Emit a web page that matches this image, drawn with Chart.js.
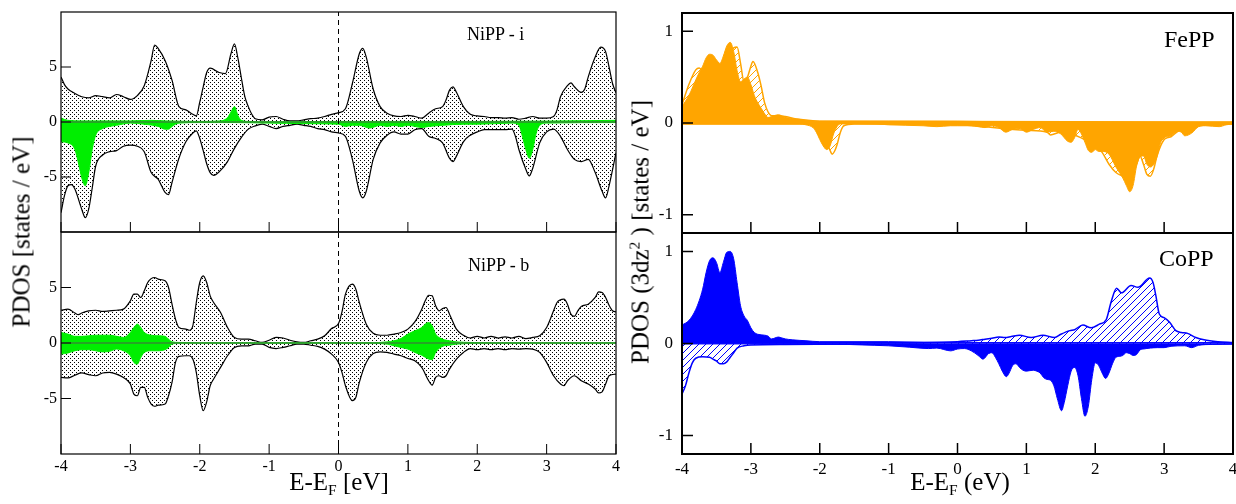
<!DOCTYPE html>
<html>
<head>
<meta charset="utf-8">
<script src="https://cdn.jsdelivr.net/npm/chart.js@4.4.1/dist/chart.umd.min.js"></script>
<style>
body{margin:0;background:#fff;width:1236px;height:504px;overflow:hidden;position:relative;font-family:"Liberation Serif",serif;}
canvas{position:absolute;left:0;top:0;}
.t{position:absolute;white-space:nowrap;color:#000;line-height:1;}
.sub{font-size:0.62em;position:relative;top:0.35em;}
.sup{font-size:0.62em;position:relative;top:-0.55em;}
</style>
</head>
<body>
<canvas id="tl" width="1236" height="504"></canvas>
<canvas id="bl" width="1236" height="504"></canvas>
<canvas id="tr" width="1236" height="504"></canvas>
<canvas id="br" width="1236" height="504"></canvas>

<div class="t" style="left:467px;top:25px;font-size:18px">NiPP - i</div>
<div class="t" style="left:468px;top:256px;font-size:18px">NiPP - b</div>
<div class="t" style="left:1164px;top:27px;font-size:24px">FePP</div>
<div class="t" style="left:1159px;top:246px;font-size:24px">CoPP</div>

<div class="t" style="left:339px;top:469px;font-size:25px;transform:translateX(-50%)">E-E<span class="sub">F</span> [eV]</div>
<div class="t" style="left:960px;top:469px;font-size:25px;transform:translateX(-50%)">E-E<span class="sub">F</span> (eV)</div>
<div class="t" style="left:21px;top:232px;font-size:25px;transform:translate(-50%,-50%) rotate(-90deg)">PDOS [states / eV]</div>
<div class="t" style="left:640px;top:232px;font-size:25px;transform:translate(-50%,-50%) rotate(-90deg)">PDOS (3dz<span class="sup">2</span> ) [states / eV]</div>

<script>
// energy axis ticks (eV) and y ticks
const E_TICKS = [-4, -3, -2, -1, 0, 1, 2, 3, 4];
const NI_YTICKS = [-5, 0, 5];
const PP_YTICKS = [-1, 0, 1];

// NiPP - i : total DOS (spin up / down) and Ni component (green)
const niI_up = [[-4,4.1],[-3.95,3.4],[-3.9,3.0],[-3.8,2.6],[-3.7,2.3],[-3.6,2.2],[-3.5,2.4],[-3.4,2.3],[-3.3,2.2],[-3.2,2.5],[-3.1,2.3],[-3.0,2.05],[-2.9,2.4],[-2.8,3.3],[-2.7,5.6],[-2.65,7.0],[-2.6,6.7],[-2.5,5.6],[-2.4,3.8],[-2.3,1.4],[-2.2,1.1],[-2.1,0.7],[-2.05,0.55],[-2.0,1.8],[-1.95,3.2],[-1.9,4.5],[-1.85,4.9],[-1.72,4.5],[-1.63,4.4],[-1.55,6.2],[-1.5,7.1],[-1.45,5.8],[-1.4,4.0],[-1.35,2.3],[-1.3,1.4],[-1.25,0.7],[-1.2,0.3],[-1.1,0.2],[-1.0,0.45],[-0.9,0.5],[-0.8,0.25],[-0.7,0.1],[-0.6,0.1],[-0.5,0.2],[-0.4,0.3],[-0.3,0.35],[-0.2,0.5],[-0.1,0.7],[0,0.85],[0.1,1.2],[0.2,3.5],[0.3,6.2],[0.35,6.7],[0.4,5.9],[0.5,3.0],[0.6,1.4],[0.7,0.8],[0.8,0.55],[0.9,0.5],[1.0,0.6],[1.1,0.5],[1.2,0.35],[1.3,0.8],[1.4,1.2],[1.5,1.4],[1.55,2.0],[1.6,2.9],[1.65,3.2],[1.7,2.7],[1.8,1.4],[1.9,0.7],[2.0,0.55],[2.1,0.5],[2.2,0.4],[2.3,0.4],[2.4,0.35],[2.5,0.4],[2.6,0.25],[2.7,0.35],[2.8,0.5],[2.9,0.35],[3.0,0.35],[3.1,0.5],[3.15,1.1],[3.2,2.3],[3.3,3.3],[3.35,3.55],[3.4,3.2],[3.5,2.7],[3.55,3.0],[3.6,4.1],[3.7,5.9],[3.78,6.8],[3.85,6.4],[3.9,5.0],[3.95,3.5],[4.0,2.65]];
const niI_dn = [[-4,-8.25],[-3.95,-6.7],[-3.9,-5.8],[-3.85,-5.7],[-3.8,-6.1],[-3.7,-7.95],[-3.65,-8.7],[-3.6,-7.9],[-3.55,-6.0],[-3.5,-4.0],[-3.4,-3.0],[-3.3,-2.7],[-3.2,-2.6],[-3.1,-2.2],[-3.0,-2.1],[-2.9,-2.2],[-2.8,-2.7],[-2.7,-4.6],[-2.6,-5.2],[-2.55,-5.8],[-2.5,-6.4],[-2.45,-6.6],[-2.4,-5.5],[-2.3,-3.3],[-2.2,-1.8],[-2.1,-1.0],[-2.05,-0.8],[-2.0,-1.5],[-1.95,-2.6],[-1.9,-3.8],[-1.85,-4.6],[-1.8,-4.85],[-1.7,-4.4],[-1.6,-3.6],[-1.5,-2.4],[-1.4,-1.4],[-1.3,-0.65],[-1.2,-0.35],[-1.1,-0.2],[-1.0,-0.4],[-0.9,-0.6],[-0.8,-0.4],[-0.7,-0.3],[-0.6,-0.2],[-0.5,-0.3],[-0.4,-0.4],[-0.3,-0.6],[-0.2,-0.7],[-0.1,-0.9],[0,-1.0],[0.1,-1.3],[0.2,-3.4],[0.3,-6.3],[0.35,-6.9],[0.4,-6.3],[0.5,-3.4],[0.6,-1.9],[0.7,-1.2],[0.8,-0.9],[0.9,-1.1],[1.0,-1.1],[1.1,-0.7],[1.2,-0.6],[1.3,-1.3],[1.4,-1.5],[1.5,-1.9],[1.6,-3.3],[1.65,-3.6],[1.7,-3.1],[1.8,-1.8],[1.9,-1.2],[2.0,-0.9],[2.1,-0.7],[2.2,-0.7],[2.3,-0.7],[2.4,-0.7],[2.5,-0.65],[2.55,-1.3],[2.6,-2.5],[2.7,-4.3],[2.75,-4.9],[2.8,-4.2],[2.9,-1.9],[3.0,-0.9],[3.1,-0.65],[3.2,-1.3],[3.3,-2.5],[3.4,-3.4],[3.5,-3.6],[3.6,-3.4],[3.7,-4.6],[3.8,-6.3],[3.85,-6.9],[3.9,-5.8],[4.0,-2.8]];
const niI_gUp = [[-4,0.35],[-3.9,0.15],[-3.7,0.1],[-3.0,0.1],[-2.7,0.15],[-2.5,0.1],[-2.0,0.05],[-1.7,0.1],[-1.6,0.4],[-1.55,0.9],[-1.5,1.4],[-1.45,0.6],[-1.4,0.15],[-1.3,0.05],[-1.0,0.03],[0,0.05],[1,0.05],[2,0.05],[3,0.08],[4,0.15]];
const niI_gDn = [[-4,-1.8],[-3.9,-1.9],[-3.8,-2.5],[-3.75,-3.7],[-3.7,-5.1],[-3.65,-5.8],[-3.6,-4.6],[-3.55,-2.5],[-3.5,-1.2],[-3.4,-0.6],[-3.3,-0.4],[-3.2,-0.3],[-3.0,-0.1],[-2.8,-0.2],[-2.6,-0.4],[-2.5,-0.65],[-2.45,-0.65],[-2.4,-0.4],[-2.3,-0.1],[-2.0,-0.05],[-1.5,-0.05],[-1.0,-0.1],[-0.5,-0.15],[0,-0.2],[0.1,-0.4],[0.2,-0.3],[0.3,-0.3],[0.45,-0.55],[0.6,-0.3],[0.7,-0.4],[0.8,-0.3],[0.9,-0.4],[1.0,-0.3],[1.2,-0.5],[1.3,-0.4],[1.5,-0.3],[1.8,-0.2],[2.0,-0.2],[2.5,-0.1],[2.6,-0.3],[2.65,-1.3],[2.7,-2.5],[2.75,-3.3],[2.8,-2.5],[2.85,-1.0],[2.9,-0.3],[3.0,-0.1],[4.0,-0.05]];

// NiPP - b
const niB_up = [[-4,2.95],[-3.9,3.05],[-3.8,2.7],[-3.75,2.55],[-3.7,2.7],[-3.6,2.9],[-3.5,2.95],[-3.4,2.85],[-3.3,2.9],[-3.2,2.95],[-3.1,3.05],[-3.0,3.8],[-2.95,4.4],[-2.9,4.4],[-2.85,4.1],[-2.8,4.7],[-2.75,5.45],[-2.7,5.8],[-2.65,5.9],[-2.6,5.75],[-2.5,5.6],[-2.45,5.0],[-2.4,3.5],[-2.35,2.15],[-2.3,1.4],[-2.2,1.25],[-2.15,1.15],[-2.1,1.55],[-2.05,3.65],[-2.0,5.45],[-1.95,6.05],[-1.9,5.45],[-1.85,4.25],[-1.8,3.65],[-1.7,2.75],[-1.6,1.4],[-1.5,0.5],[-1.4,0.35],[-1.3,0.35],[-1.2,0.2],[-1.1,0.05],[-1.0,0.25],[-0.9,0.5],[-0.8,0.45],[-0.7,0.25],[-0.6,0.1],[-0.5,0.05],[-0.4,0.2],[-0.3,0.35],[-0.2,0.65],[-0.1,1.3],[0,1.75],[0.05,2.8],[0.1,4.4],[0.2,5.3],[0.25,4.85],[0.3,3.65],[0.4,1.7],[0.5,0.87],[0.6,0.7],[0.7,0.7],[0.8,0.8],[0.9,0.95],[1.0,1.25],[1.1,1.9],[1.2,3.05],[1.25,3.8],[1.3,4.3],[1.35,4.25],[1.4,3.35],[1.45,2.9],[1.5,3.1],[1.55,3.2],[1.6,2.6],[1.7,1.25],[1.8,0.7],[1.9,0.45],[2.0,0.6],[2.1,0.45],[2.2,0.6],[2.3,0.45],[2.4,0.55],[2.5,0.45],[2.6,0.6],[2.7,0.4],[2.8,0.5],[2.9,0.65],[3.0,1.4],[3.1,2.9],[3.15,3.65],[3.25,3.95],[3.3,3.5],[3.35,2.6],[3.4,2.4],[3.45,2.9],[3.5,3.3],[3.6,3.5],[3.7,4.1],[3.75,4.6],[3.8,4.55],[3.85,4.1],[3.9,3.4],[3.95,2.9],[4.0,2.8]];
const niB_dn = [[-4,-3.1],[-3.9,-3.15],[-3.8,-2.9],[-3.7,-2.7],[-3.6,-2.85],[-3.5,-2.95],[-3.4,-2.7],[-3.3,-2.65],[-3.2,-2.8],[-3.1,-3.1],[-3.0,-3.7],[-2.95,-4.6],[-2.9,-4.75],[-2.85,-4.0],[-2.8,-4.0],[-2.75,-4.9],[-2.7,-5.5],[-2.65,-5.7],[-2.6,-5.6],[-2.5,-5.5],[-2.45,-4.75],[-2.4,-3.55],[-2.35,-1.75],[-2.3,-1.2],[-2.2,-1.15],[-2.15,-1.15],[-2.1,-1.45],[-2.05,-2.65],[-2.0,-4.75],[-1.95,-6.1],[-1.9,-5.3],[-1.85,-3.85],[-1.8,-3.25],[-1.7,-2.2],[-1.6,-1.15],[-1.5,-0.4],[-1.4,-0.25],[-1.3,-0.25],[-1.2,-0.1],[-1.1,-0.1],[-1.0,-0.4],[-0.9,-0.5],[-0.8,-0.4],[-0.7,-0.25],[-0.6,-0.1],[-0.5,-0.1],[-0.4,-0.2],[-0.3,-0.3],[-0.2,-0.55],[-0.1,-1.0],[0,-1.75],[0.05,-2.65],[0.1,-3.85],[0.2,-5.2],[0.25,-4.9],[0.3,-3.55],[0.4,-1.75],[0.5,-0.95],[0.6,-0.8],[0.7,-0.85],[0.8,-1.0],[0.9,-1.15],[1.0,-1.4],[1.1,-1.6],[1.2,-2.2],[1.3,-3.4],[1.35,-3.8],[1.4,-3.1],[1.45,-2.95],[1.5,-3.1],[1.55,-2.95],[1.6,-2.35],[1.7,-1.45],[1.8,-0.85],[1.9,-0.5],[2.0,-0.6],[2.1,-0.5],[2.2,-0.6],[2.3,-0.5],[2.4,-0.6],[2.5,-0.5],[2.6,-0.55],[2.7,-0.5],[2.8,-0.55],[2.9,-0.85],[3.0,-1.75],[3.1,-2.95],[3.2,-3.7],[3.25,-3.85],[3.3,-3.4],[3.4,-2.95],[3.5,-3.4],[3.6,-3.7],[3.7,-4.15],[3.75,-4.5],[3.8,-4.4],[3.85,-3.7],[3.9,-2.95],[4.0,-2.8]];
const niB_gUp = [[-4,0.95],[-3.9,0.8],[-3.8,0.6],[-3.7,0.6],[-3.6,0.65],[-3.5,0.7],[-3.4,0.7],[-3.3,0.7],[-3.2,0.6],[-3.1,0.5],[-3.0,0.95],[-2.95,1.4],[-2.9,1.7],[-2.85,1.4],[-2.8,0.95],[-2.7,0.7],[-2.6,0.65],[-2.5,0.6],[-2.45,0.35],[-2.4,0.1],[-2.3,0.05],[-2.0,0.02],[0.5,0.03],[0.7,0.1],[0.8,0.2],[0.9,0.4],[1.0,0.8],[1.1,1.1],[1.2,1.4],[1.25,1.7],[1.3,1.85],[1.35,1.55],[1.4,0.8],[1.5,0.35],[1.6,0.2],[1.7,0.1],[1.9,0.05],[2.2,0.02],[4.0,0.02]];
const niB_gDn = [[-4,-1.0],[-3.9,-0.9],[-3.8,-0.7],[-3.7,-0.6],[-3.6,-0.6],[-3.5,-0.7],[-3.4,-0.8],[-3.3,-0.75],[-3.2,-0.55],[-3.1,-0.7],[-3.0,-1.15],[-2.95,-1.75],[-2.9,-1.9],[-2.85,-1.3],[-2.8,-0.85],[-2.7,-0.7],[-2.6,-0.7],[-2.5,-0.6],[-2.45,-0.4],[-2.4,-0.1],[-2.3,-0.03],[-2.0,-0.02],[0.5,-0.03],[0.7,-0.1],[0.8,-0.25],[0.9,-0.4],[1.0,-0.55],[1.1,-0.85],[1.2,-1.1],[1.3,-1.45],[1.35,-1.5],[1.4,-0.85],[1.5,-0.3],[1.6,-0.2],[1.7,-0.1],[2.0,-0.03],[4.0,-0.02]];

// FePP 3dz2 : solid and hatched sets
const fe_sUp = [[-4,0.18],[-3.9,0.3],[-3.8,0.47],[-3.75,0.55],[-3.7,0.62],[-3.65,0.71],[-3.6,0.75],[-3.55,0.74],[-3.5,0.69],[-3.45,0.65],[-3.4,0.73],[-3.35,0.84],[-3.3,0.88],[-3.25,0.78],[-3.2,0.57],[-3.15,0.45],[-3.1,0.48],[-3.05,0.5],[-3.0,0.42],[-2.95,0.3],[-2.9,0.22],[-2.85,0.16],[-2.8,0.1],[-2.75,0.06],[-2.7,0.07],[-2.6,0.09],[-2.5,0.06],[-2.4,0.05],[-2.3,0.04],[-2.2,0.03],[-2.0,0.02],[-1.0,0.02],[0,0.02],[1,0.01],[2,0.01],[3,0.01],[4,0.01]];
const fe_sDn = [[-4,-0.01],[-2.3,-0.01],[-2.2,-0.02],[-2.1,-0.05],[-2.05,-0.1],[-2.0,-0.18],[-1.95,-0.25],[-1.9,-0.29],[-1.85,-0.25],[-1.8,-0.12],[-1.75,-0.04],[-1.7,-0.01],[-1.2,-0.01],[-1.0,-0.02],[-0.5,-0.03],[-0.3,-0.04],[-0.1,-0.03],[0.0,-0.03],[0.2,-0.03],[0.3,-0.04],[0.4,-0.05],[0.5,-0.03],[0.6,-0.05],[0.7,-0.1],[0.8,-0.07],[0.9,-0.06],[1.0,-0.1],[1.1,-0.07],[1.2,-0.05],[1.3,-0.1],[1.4,-0.09],[1.5,-0.12],[1.6,-0.2],[1.65,-0.21],[1.7,-0.16],[1.75,-0.07],[1.8,-0.12],[1.85,-0.21],[1.9,-0.3],[1.95,-0.32],[2.0,-0.29],[2.05,-0.31],[2.1,-0.31],[2.2,-0.34],[2.3,-0.48],[2.4,-0.6],[2.45,-0.68],[2.5,-0.75],[2.55,-0.68],[2.6,-0.47],[2.65,-0.37],[2.7,-0.36],[2.75,-0.45],[2.8,-0.48],[2.85,-0.45],[2.9,-0.36],[2.95,-0.21],[3.0,-0.16],[3.1,-0.14],[3.2,-0.09],[3.25,-0.1],[3.3,-0.14],[3.4,-0.11],[3.5,-0.04],[3.6,-0.03],[3.8,-0.04],[3.9,-0.02],[4.0,-0.01]];
const fe_hUp = [[-4,0.2],[-3.9,0.42],[-3.8,0.58],[-3.75,0.6],[-3.7,0.56],[-3.65,0.5],[-3.6,0.55],[-3.5,0.62],[-3.4,0.65],[-3.3,0.75],[-3.25,0.82],[-3.2,0.83],[-3.15,0.65],[-3.1,0.45],[-3.05,0.5],[-3.0,0.62],[-2.97,0.67],[-2.9,0.55],[-2.85,0.4],[-2.8,0.22],[-2.75,0.12],[-2.7,0.08],[-2.6,0.08],[-2.5,0.07],[-2.3,0.04],[-2.0,0.02],[4,0.01]];
const fe_hDn = [[-4,-0.01],[-2.2,-0.01],[-2.0,-0.08],[-1.95,-0.15],[-1.9,-0.22],[-1.85,-0.3],[-1.82,-0.34],[-1.78,-0.3],[-1.75,-0.24],[-1.7,-0.1],[-1.65,-0.03],[-1.5,-0.01],[0,-0.02],[1.0,-0.08],[1.3,-0.1],[1.35,-0.13],[1.5,-0.1],[2.0,-0.25],[2.1,-0.32],[2.2,-0.45],[2.3,-0.54],[2.4,-0.58],[2.5,-0.6],[2.6,-0.45],[2.65,-0.36],[2.7,-0.45],[2.75,-0.56],[2.8,-0.58],[2.85,-0.5],[2.9,-0.35],[3.0,-0.18],[3.05,-0.16],[3.1,-0.15],[3.2,-0.09],[3.5,-0.03],[4,-0.01]];

// CoPP 3dz2
const co_sUp = [[-4,0.2],[-3.9,0.25],[-3.8,0.37],[-3.7,0.59],[-3.65,0.77],[-3.6,0.9],[-3.55,0.93],[-3.5,0.88],[-3.45,0.77],[-3.4,0.88],[-3.35,0.99],[-3.3,1.0],[-3.25,0.92],[-3.2,0.66],[-3.15,0.41],[-3.1,0.3],[-3.05,0.25],[-3.0,0.17],[-2.95,0.12],[-2.9,0.1],[-2.8,0.09],[-2.75,0.08],[-2.7,0.05],[-2.6,0.07],[-2.55,0.06],[-2.5,0.05],[-2.4,0.04],[-2.2,0.03],[-2.0,0.02],[-1.0,0.02],[0,0.01],[4,0.01]];
const co_sDn = [[-4,-0.005],[-2.0,-0.005],[-1.2,-0.02],[-1.0,-0.025],[-0.7,-0.04],[-0.42,-0.055],[-0.3,-0.05],[-0.1,-0.08],[0.0,-0.06],[0.1,-0.055],[0.2,-0.08],[0.3,-0.13],[0.37,-0.17],[0.45,-0.11],[0.5,-0.1],[0.55,-0.15],[0.6,-0.22],[0.65,-0.3],[0.71,-0.36],[0.75,-0.32],[0.8,-0.24],[0.85,-0.22],[0.9,-0.26],[0.95,-0.29],[1.0,-0.3],[1.1,-0.29],[1.15,-0.3],[1.2,-0.32],[1.25,-0.37],[1.3,-0.39],[1.35,-0.4],[1.4,-0.46],[1.45,-0.6],[1.51,-0.73],[1.55,-0.64],[1.6,-0.46],[1.65,-0.3],[1.7,-0.26],[1.75,-0.35],[1.8,-0.6],[1.85,-0.79],[1.9,-0.68],[1.95,-0.39],[2.0,-0.21],[2.05,-0.24],[2.1,-0.32],[2.15,-0.38],[2.2,-0.32],[2.25,-0.22],[2.3,-0.15],[2.35,-0.14],[2.4,-0.13],[2.45,-0.1],[2.5,-0.11],[2.55,-0.13],[2.6,-0.12],[2.65,-0.07],[2.7,-0.06],[2.8,-0.05],[2.9,-0.045],[3.0,-0.045],[3.1,-0.03],[3.3,-0.025],[3.4,-0.045],[3.5,-0.02],[3.7,-0.01],[4.0,-0.005]];
const co_hUp = [[-4,0.005],[-1.0,0.005],[0.0,0.02],[0.2,0.03],[0.3,0.035],[0.4,0.047],[0.5,0.058],[0.6,0.07],[0.69,0.065],[0.78,0.076],[0.9,0.09],[1.07,0.065],[1.24,0.09],[1.41,0.065],[1.5,0.1],[1.63,0.14],[1.7,0.15],[1.82,0.2],[1.94,0.17],[2.06,0.21],[2.16,0.26],[2.23,0.45],[2.31,0.6],[2.38,0.55],[2.52,0.63],[2.62,0.61],[2.79,0.71],[2.84,0.66],[2.88,0.52],[2.93,0.32],[3.0,0.28],[3.08,0.23],[3.17,0.14],[3.25,0.12],[3.34,0.11],[3.46,0.065],[3.58,0.04],[3.78,0.02],[4.0,0.01]];
const co_hDn = [[-4,-0.55],[-3.95,-0.46],[-3.9,-0.32],[-3.85,-0.21],[-3.8,-0.16],[-3.7,-0.145],[-3.6,-0.15],[-3.55,-0.17],[-3.5,-0.19],[-3.45,-0.22],[-3.4,-0.22],[-3.35,-0.2],[-3.3,-0.15],[-3.25,-0.1],[-3.2,-0.05],[-3.1,-0.025],[-3.0,-0.015],[-2.5,-0.01],[-1.0,-0.005],[4.0,-0.005]];

const SERIF = '"Liberation Serif", "Times New Roman", serif';

function pts(a) {
  return a.map(p => ({x: p[0], y: p[1]}));
}

// dotted grey fill, like the stipple of the original
function stipple() {
  var c = document.createElement('canvas');
  c.width = 4; c.height = 4;
  var g = c.getContext('2d');
  g.fillStyle = '#fff'; g.fillRect(0, 0, 4, 4);
  g.fillStyle = '#000';
  g.fillRect(0, 0, 1, 1);
  g.fillRect(2, 2, 1, 1);
  return g.createPattern(c, 'repeat');
}

function hatch(col) {
  var c = document.createElement('canvas');
  c.width = 7; c.height = 7;
  var g = c.getContext('2d');
  g.fillStyle = '#fff'; g.fillRect(0, 0, 7, 7);
  g.strokeStyle = col; g.lineWidth = 1;
  g.beginPath();
  g.moveTo(-1, 8); g.lineTo(8, -1);
  g.moveTo(-1, 1); g.lineTo(1, -1);
  g.moveTo(6, 8); g.lineTo(8, 6);
  g.stroke();
  return g.createPattern(c, 'repeat');
}

// box around the plot + inward tick marks
const frame = {
  id: 'frame',
  afterDraw(chart, args, opts) {
    const ctx = chart.ctx, a = chart.chartArea;
    const x = chart.scales.x, y = chart.scales.y;
    ctx.save();
    ctx.strokeStyle = '#000';
    ctx.lineWidth = opts.tw;
    ctx.beginPath();
    x.ticks.forEach(t => {
      const px = x.getPixelForValue(t.value);
      ctx.moveTo(px, a.bottom); ctx.lineTo(px, a.bottom - opts.len);
    });
    y.ticks.forEach(t => {
      const py = y.getPixelForValue(t.value);
      ctx.moveTo(a.left, py); ctx.lineTo(a.left + opts.len, py);
    });
    ctx.stroke();
    ctx.lineWidth = opts.lw;
    ctx.strokeRect(a.left, a.top, a.right - a.left, a.bottom - a.top);
    ctx.restore();
  }
};

function panel(id, o) {
  return new Chart(document.getElementById(id), {
    type: 'line',
    data: {datasets: o.datasets},
    options: {
      responsive: false,
      animation: false,
      devicePixelRatio: 1,
      layout: {padding: o.pad},
      elements: {point: {radius: 0}, line: {cubicInterpolationMode: 'monotone'}},
      scales: {
        x: {
          type: 'linear', min: -4, max: 4,
          afterBuildTicks: s => { s.ticks = E_TICKS.map(v => ({value: v})); },
          afterFit: s => { s.height = 30; s.paddingLeft = 0; s.paddingRight = 0; },
          grid: {display: false, drawTicks: false}, border: {display: false},
          ticks: {display: o.xLabels, color: '#000', padding: o.xPad, font: {family: SERIF, size: o.fs}, callback: v => String(v)}
        },
        y: {
          type: 'linear', min: o.ymin, max: o.ymax,
          afterBuildTicks: s => { s.ticks = o.yTicks.map(v => ({value: v})); },
          afterFit: s => { s.width = 50; s.paddingTop = 0; s.paddingBottom = 0; },
          grid: {display: false, drawTicks: false}, border: {display: false},
          ticks: {color: '#000', padding: o.yPad, font: {family: SERIF, size: o.fs}, callback: v => String(v)}
        }
      },
      plugins: {
        legend: {display: false},
        tooltip: {enabled: false},
        frame: {lw: o.lw, tw: o.tw, len: o.len}
      }
    },
    plugins: [frame]
  });
}

function niSets(up, dn, gUp, gDn) {
  var dots = stipple();
  var green = '#00ee00';
  return [
    {data: pts([[0, -10], [0, 10]]), borderColor: '#000', borderWidth: 1, borderDash: [5, 4], fill: false, cubicInterpolationMode: 'default', tension: 0, order: 0},
    {data: pts([[-4, 0], [4, 0]]), borderColor: '#4d5a4d', borderWidth: 1, fill: false, order: 1},
    {data: pts(gUp), borderColor: green, borderWidth: 1, backgroundColor: green, fill: 'origin', order: 2},
    {data: pts(gDn), borderColor: green, borderWidth: 1, backgroundColor: green, fill: 'origin', order: 2},
    {data: pts(up), borderColor: '#000', borderWidth: 1.2, backgroundColor: dots, fill: 'origin', order: 3},
    {data: pts(dn), borderColor: '#000', borderWidth: 1.2, backgroundColor: dots, fill: 'origin', order: 3}
  ];
}

function ppSets(sUp, sDn, hUp, hDn, col) {
  var h = hatch(col);
  return [
    {data: pts(sUp), borderColor: col, borderWidth: 1, backgroundColor: col, fill: 'origin', order: 1},
    {data: pts(sDn), borderColor: col, borderWidth: 1, backgroundColor: col, fill: 'origin', order: 1},
    {data: pts(hUp), borderColor: col, borderWidth: 1.5, backgroundColor: h, fill: 'origin', order: 2},
    {data: pts(hDn), borderColor: col, borderWidth: 1.5, backgroundColor: h, fill: 'origin', order: 2}
  ];
}

var niOpts = {ymin: -10, ymax: 10, yTicks: NI_YTICKS, fs: 16, xPad: 3, yPad: 4, lw: 1.2, tw: 1, len: 10};
var ppOpts = {ymin: -1.2, ymax: 1.2, yTicks: PP_YTICKS, fs: 17, xPad: 5, yPad: 9, lw: 2, tw: 1.5, len: 11};

panel('tl', Object.assign({}, niOpts, {xLabels: false, pad: {left: 11, right: 620, top: 12, bottom: 242}, datasets: niSets(niI_up, niI_dn, niI_gUp, niI_gDn)}));
panel('bl', Object.assign({}, niOpts, {xLabels: true, pad: {left: 11, right: 620, top: 232, bottom: 20}, datasets: niSets(niB_up, niB_dn, niB_gUp, niB_gDn)}));
panel('tr', Object.assign({}, ppOpts, {xLabels: false, pad: {left: 632, right: 3, top: 13, bottom: 241}, datasets: ppSets(fe_sUp, fe_sDn, fe_hUp, fe_hDn, '#ffa500')}));
panel('br', Object.assign({}, ppOpts, {xLabels: true, pad: {left: 632, right: 3, top: 233, bottom: 20}, datasets: ppSets(co_sUp, co_sDn, co_hUp, co_hDn, '#0000ff')}));
</script>
</body>
</html>
